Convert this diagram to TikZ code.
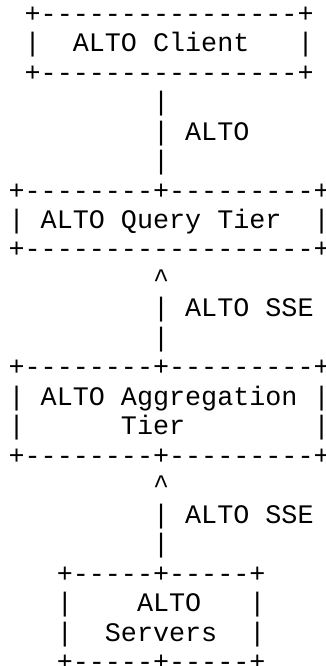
\documentclass[tikz,border=0pt]{standalone}
\usepackage{fontspec}
\setmonofont{Liberation Mono}
\tikzset{txt/.style={anchor=base west, inner sep=0pt, outer sep=0pt, text=black,
  font=\ttfamily\fontsize{26.75pt}{29.47pt}\selectfont}}
\newcommand\asciicell[4]{\node[txt] (#1) at ({8.6+16.05*#2},{-(22.23+29.47*#3)}) {#4};}
\begin{document}
\begin{tikzpicture}[x=1pt,y=1pt]
\useasboundingbox (0,0) rectangle (325,-666);
% ALTO Client box
\asciicell{c0}{1}{0}{+----------------+}
\asciicell{c1l}{1}{1}{|}
\asciicell{c1t}{4}{1}{ALTO~Client}
\asciicell{c1r}{18}{1}{|}
\asciicell{c2}{1}{2}{+----------------+}
% link ALTO
\asciicell{l3}{9}{3}{|}
\asciicell{l4}{9}{4}{|}
\asciicell{l4t}{11}{4}{ALTO}
\asciicell{l5}{9}{5}{|}
% Query tier
\asciicell{q6}{0}{6}{+--------+---------+}
\asciicell{q7l}{0}{7}{|}
\asciicell{q7t}{2}{7}{ALTO~Query~Tier}
\asciicell{q7r}{19}{7}{|}
\asciicell{q8}{0}{8}{+------------------+}
% link SSE 1
\asciicell{s9}{9}{9}{\textasciicircum}
\asciicell{s10}{9}{10}{|}
\asciicell{s10t}{11}{10}{ALTO~SSE}
\asciicell{s11}{9}{11}{|}
% Aggregation tier
\asciicell{a12}{0}{12}{+--------+---------+}
\asciicell{a13l}{0}{13}{|}
\asciicell{a13t}{2}{13}{ALTO~Aggregation}
\asciicell{a13r}{19}{13}{|}
\asciicell{a14l}{0}{14}{|}
\asciicell{a14t}{7}{14}{Tier}
\asciicell{a14r}{19}{14}{|}
\asciicell{a15}{0}{15}{+--------+---------+}
% link SSE 2
\asciicell{t16}{9}{16}{\textasciicircum}
\asciicell{t17}{9}{17}{|}
\asciicell{t17t}{11}{17}{ALTO~SSE}
\asciicell{t18}{9}{18}{|}
% Servers
\asciicell{v19}{3}{19}{+-----+-----+}
\asciicell{v20l}{3}{20}{|}
\asciicell{v20t}{8}{20}{ALTO}
\asciicell{v20r}{15}{20}{|}
\asciicell{v21l}{3}{21}{|}
\asciicell{v21t}{6}{21}{Servers}
\asciicell{v21r}{15}{21}{|}
\asciicell{v22}{3}{22}{+-----+-----+}
\end{tikzpicture}
\end{document}
